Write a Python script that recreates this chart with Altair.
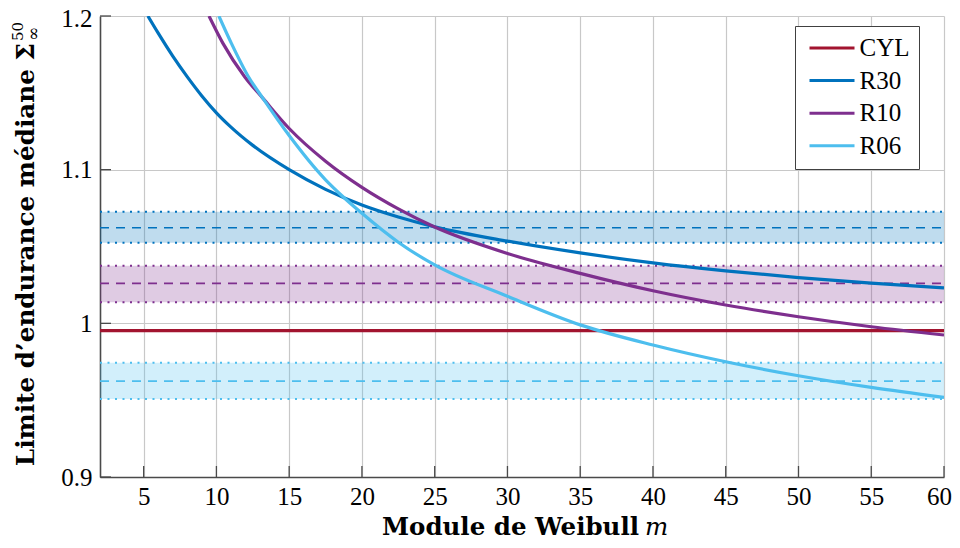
import altair as alt
import pandas as pd

# ---------------- data ----------------
series_names = ["CYL", "R30", "R10", "R06"]
series_colors = ["#A2142F", "#0072BD", "#7E2F8E", "#4DBEEE"]

x_ticks = [5, 10, 15, 20, 25, 30, 35, 40, 45, 50, 55, 60]
y_ticks = [0.9, 1.0, 1.1, 1.2]
x_domain = [2, 60]
y_domain = [0.9, 1.2]

cyl_m = [2, 60]
cyl_v = [0.9952, 0.9952]

r30_m = [5.29, 6, 7, 8, 9, 10, 11, 12.5, 15, 17.5, 20, 22.5, 25, 30, 35, 40, 45, 50, 55, 60]
r30_v = [1.2, 1.1888, 1.1739, 1.1604, 1.1480, 1.1370, 1.1277, 1.1158, 1.1000, 1.0872,
         1.0770, 1.0692, 1.0628, 1.0535, 1.0458, 1.0393, 1.0341, 1.0298, 1.0262, 1.0231]

r10_m = [9.49, 10.45, 11.94, 13.2, 15, 17.5, 20, 22.5, 25, 30, 35, 40, 45, 50, 55, 60]
r10_v = [1.2, 1.1822, 1.1605, 1.1464, 1.1268, 1.1055, 1.0885, 1.0745, 1.0627,
         1.0455, 1.0325, 1.0212, 1.0119, 1.0043, 0.9978, 0.9924]

r06_m = [10.17, 11.03, 12.17, 13.2, 15, 17.5, 18.7, 20, 22.5, 25, 30, 35, 40, 45, 50, 55, 60]
r06_v = [1.2, 1.1822, 1.1610, 1.1464, 1.1222, 1.0934, 1.0824, 1.0716, 1.0528, 1.0380,
         1.0176, 0.9990, 0.9859, 0.9750, 0.9659, 0.9583, 0.9518]

band_series = ["R30", "R10", "R06"]
band_colors = ["#0072BD", "#7E2F8E", "#4DBEEE"]
band_mid = [1.0622, 1.0260, 0.9624]
band_low = [1.0525, 1.0137, 0.9507]
band_high = [1.0726, 1.0375, 0.9744]

# ---------------- tables ----------------
curve_rows = []
for name, ms, vs in [("CYL", cyl_m, cyl_v), ("R30", r30_m, r30_v),
                     ("R10", r10_m, r10_v), ("R06", r06_m, r06_v)]:
    for m, v in zip(ms, vs):
        curve_rows.append({"series": name, "m": m, "v": v})
curves = pd.DataFrame(curve_rows)

W, H = 844, 461
xscale = alt.Scale(domain=x_domain, nice=False, zero=False)
yscale = alt.Scale(domain=y_domain, nice=False, zero=False)

grid_col = "#c8c8c8"
axis_col = "#4a4a4a"

x_axis = alt.Axis(values=x_ticks, title=None, grid=True, gridColor=grid_col, gridWidth=1.2,
                  domainColor=axis_col, domainWidth=1.6, ticks=False, tickSize=0,
                  labelFont="Liberation Serif", labelFontSize=25, labelColor="black",
                  labelPadding=7, labelFlush=False, labelOverlap=False,
                  labelOffset={"condition": {"test": "datum.value == 60", "value": -5},
                               "value": 0})
y_axis = alt.Axis(values=y_ticks, title=None, grid=True, gridColor=grid_col, gridWidth=1.2,
                  domainColor=axis_col, domainWidth=1.6, ticks=False, tickSize=0,
                  labelFont="Liberation Serif", labelFontSize=25, labelColor="black",
                  labelPadding=8, labelOverlap=False, format="~g",
                  labelOffset={"condition": {"test": "datum.value == 1.2", "value": 2},
                               "value": 0})

band_layers = []
for s, c, mid, lo, hi in zip(band_series, band_colors, band_mid, band_low, band_high):
    bdf = pd.DataFrame({"x0": [x_domain[0]], "x1": [x_domain[1]],
                        "mid": [mid], "low": [lo], "high": [hi]})
    base = alt.Chart(bdf)
    band_layers.append(base.mark_rect(opacity=0.25, color=c).encode(
        x=alt.X("x0:Q", scale=xscale, axis=x_axis), x2="x1:Q",
        y=alt.Y("low:Q", scale=yscale, axis=y_axis), y2="high:Q"))
    band_layers.append(base.mark_rule(strokeDash=[9, 7], strokeWidth=1.7, color=c).encode(
        x=alt.X("x0:Q", scale=xscale, axis=x_axis), x2="x1:Q",
        y=alt.Y("mid:Q", scale=yscale, axis=y_axis)))
    for col in ["low", "high"]:
        band_layers.append(base.mark_rule(strokeDash=[2, 5.5], strokeWidth=2, color=c).encode(
            x=alt.X("x0:Q", scale=xscale, axis=x_axis), x2="x1:Q",
            y=alt.Y(col + ":Q", scale=yscale, axis=y_axis)))

legend = alt.Legend(orient="none", legendX=695, legendY=10, title=None,
                    symbolType="M-1,0H5", symbolSize=225, symbolStrokeWidth=3,
                    labelFont="Liberation Serif", labelFontSize=25, labelColor="black",
                    labelOffset=30, padding=9.5, rowPadding=6.6,
                    strokeColor="#404040", fillColor="white",
                    labelExpr="datum.label + '\\u00a0\\u00a0\\u00a0\\u00a0'")

curve_layer = alt.Chart(curves).mark_line(strokeWidth=3.2, interpolate="monotone", clip=True).encode(
    x=alt.X("m:Q", scale=xscale, axis=x_axis),
    y=alt.Y("v:Q", scale=yscale, axis=y_axis),
    color=alt.Color("series:N", scale=alt.Scale(domain=series_names, range=series_colors),
                    legend=legend, sort=series_names),
    order="m:Q",
)

left_ticks = alt.Chart(pd.DataFrame({"t": y_ticks})).mark_rule(color=axis_col, strokeWidth=1.3).encode(
    x=alt.value(0), x2=alt.value(11),
    y=alt.Y("t:Q", scale=yscale, axis=y_axis),
)
bottom_ticks = alt.Chart(pd.DataFrame({"t": x_ticks})).mark_rule(color=axis_col, strokeWidth=1.3).encode(
    x=alt.X("t:Q", scale=xscale, axis=x_axis),
    y=alt.value(H), y2=alt.value(H - 11),
)

one = pd.DataFrame({"k": [0]})
ytitle = alt.Chart(one).mark_text(text="Limite d\u2019endurance médiane Σ", font="DejaVu Serif",
                                  fontWeight="bold", fontSize=24.7, angle=270, align="right",
                                  baseline="alphabetic", color="black").encode(
    x=alt.value(-66), y=alt.value(27))
ysup = alt.Chart(one).mark_text(text="50", font="DejaVu Serif", fontSize=15, angle=270,
                                align="left", baseline="alphabetic", color="black").encode(
    x=alt.value(-77), y=alt.value(25))
ysub = alt.Chart(one).mark_text(text="∞", font="DejaVu Serif", fontSize=17, angle=270,
                                align="left", baseline="alphabetic", color="black").encode(
    x=alt.value(-61), y=alt.value(25))
xtitle = alt.Chart(one).mark_text(text="Module de Weibull", font="DejaVu Serif",
                                  fontWeight="bold", fontSize=24.5, align="right",
                                  baseline="alphabetic", color="black").encode(
    x=alt.value(539), y=alt.value(519))
xm = alt.Chart(one).mark_text(text="m", font="DejaVu Serif", fontStyle="italic",
                              fontSize=24.5, align="left", baseline="alphabetic",
                              color="black").encode(
    x=alt.value(545), y=alt.value(519))

chart = alt.layer(
    *band_layers, curve_layer, left_ticks, bottom_ticks,
    ytitle, ysup, ysub, xtitle, xm,
).properties(
    width=W, height=H,
    autosize=alt.AutoSizeParams(type="none"),
    padding={"left": 92, "top": 8, "right": 8, "bottom": 63},
).configure_view(stroke=None)

chart.save("out.html", embed_options={"renderer": "svg", "actions": False})
